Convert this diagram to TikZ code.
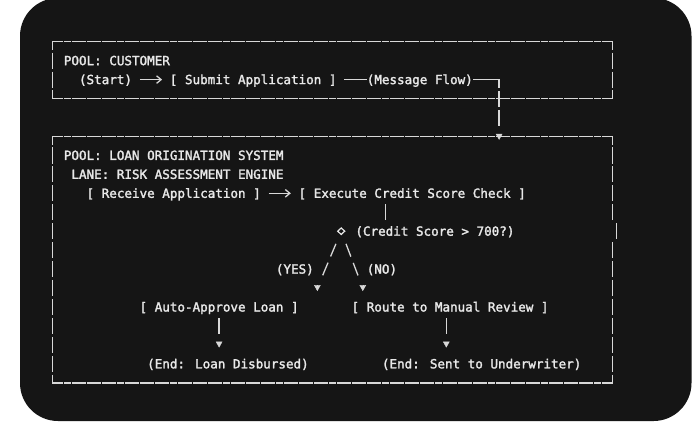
\documentclass[tikz,border=0pt]{standalone}
\usepackage{fontspec}
\newfontfamily\ascii[FakeBold=2]{DejaVu Sans Mono}
\usetikzlibrary{arrows.meta,shapes.geometric}
\definecolor{panel}{HTML}{151515}
\definecolor{ink}{HTML}{E8E8E8}
\definecolor{stroke}{HTML}{D8D8D8}
\tikzset{
  txt/.style={text=ink,font=\ascii\fontsize{12.58pt}{15pt}\selectfont,inner sep=0pt,anchor=west,text height=9pt,text depth=0pt},
  hrule/.style={draw=stroke,line width=1.5pt,dash pattern=on 7pt off 0.573pt,dash phase=3.5pt},
  vrule/.style={draw=stroke,line width=1.5pt,dash pattern=on 16.2pt off 2.75pt,dash phase=8.1pt},
  wire/.style={draw=stroke,line width=1.4pt},
  gt/.style={wire,shorten <=7.573pt,shorten >=7.573pt,-{Straight Barb[length=4.5pt,width=7.5pt,line width=1.3pt]}},
  vdrop/.style={wire,-{Triangle[length=6pt,width=6.6pt,line width=0.4pt]}},
  slant/.style={wire,line width=1.3pt,dash pattern=on 13.7pt off 6.7pt},
  arrowhead/.style={draw=stroke,line width=0.3pt,-{Triangle[length=6pt,width=6.6pt,line width=0.4pt]}},
}
\begin{document}
\begin{tikzpicture}[x=7.573pt,y=-18.95pt]
\path[use as bounding box,clip] (-6.906,-2.2005) rectangle (84.603,20.332);
\fill[white] (-6.906,-2.2005) rectangle (84.603,20.332);
\fill[panel,rounded corners=38pt] (-4.265,-2.306) rectangle (84.405,20.016);

\draw[hrule] (0,0) -- (74,0);
\draw[hrule] (0,3) -- (74,3);
\draw[vrule] (0,0) -- (0,3);
\draw[vrule] (74,0) -- (74,3);
\node[txt] (pool1) at (1.5,1) {POOL: CUSTOMER};
\node[txt] (start) at (3.5,2) {(Start)};
\node[txt] (submit) at (15.5,2) {[ Submit Application ]};
\node[txt] (msg) at (41.5,2) {(Message Flow)};

\draw[hrule] (0,5) -- (74,5);
\draw[hrule] (0,18) -- (74,18);
\draw[vrule] (0,5) -- (0,18);
\draw[vrule] (74,5) -- (74,9.5);
\draw[wire,line width=1.5pt] (74.48,9.57) -- (74.48,10.43);
\draw[vrule,dash phase=17.575pt] (74,10.5) -- (74,18);
\node[txt] (pool2) at (1.5,6) {POOL: LOAN ORIGINATION SYSTEM};
\node[txt] (lane) at (2.5,7) {LANE: RISK ASSESSMENT ENGINE};
\node[txt] (receive) at (4.5,8) {[ Receive Application ]};
\node[txt] (execute) at (32.5,8) {[ Execute Credit Score Check ]};
\node[diamond,draw=ink,line width=1.2pt,inner sep=0pt,minimum width=7.5pt,minimum height=7pt] (dec) at (38.15,10) {};
\node[txt] (decq) at (40,10) {(Credit Score > 700?)};
\node[txt] (yes) at (29.5,12) {(YES)};
\node[txt] (no) at (41.5,12) {(NO)};
\node[txt] (approve) at (11.5,14) {[ Auto-Approve Loan ]};
\node[txt] (review) at (39.5,14) {[ Route to Manual Review ]};
\node[txt] (end1) at (12.5,17) {(End: Loan Disbursed)};
\node[txt] (end2) at (43.5,17) {(End: Sent to Underwriter)};

\coordinate (inlet) at (59,5.18);
\coordinate (chk) at (44,0);
\coordinate (yesv) at (35,13);
\coordinate (nov) at (41,13);
\coordinate (rv) at ([xshift=-3.79pt]review.south);

\draw[gt] (start) -- (submit);
\draw[wire,shorten <=7.573pt] (submit) -- (msg);
\draw[vdrop,dash pattern=on 34.6pt off 2.75pt on 16.2pt off 2.75pt on 16.2pt off 20pt] (msg.east) -| (inlet);
\draw[gt] (receive) -- (execute);
\draw[wire,shorten <=6.3pt,shorten >=6.3pt] (execute.south -| chk) -- (decq.north -| chk);
\draw[slant,shorten <=13.7pt,shorten >=13.7pt] (dec.center) -- (yesv);
\draw[slant,shorten <=13.5pt,shorten >=13.5pt] (dec.center) -- (nov);
\draw[arrowhead] ([yshift=3pt]yesv) -- ([yshift=-3pt]yesv);
\draw[arrowhead] ([yshift=3pt]nov) -- ([yshift=-3pt]nov);
\draw[vdrop,dash pattern=on 16.3pt off 30pt,shorten <=6.3pt,shorten >=11.6pt] (approve.south) -- (approve.south |- end1.north);
\draw[vdrop,dash pattern=on 16.3pt off 30pt,shorten <=6.3pt,shorten >=11.6pt] (rv) -- (rv |- end2.north);
\end{tikzpicture}
\end{document}
